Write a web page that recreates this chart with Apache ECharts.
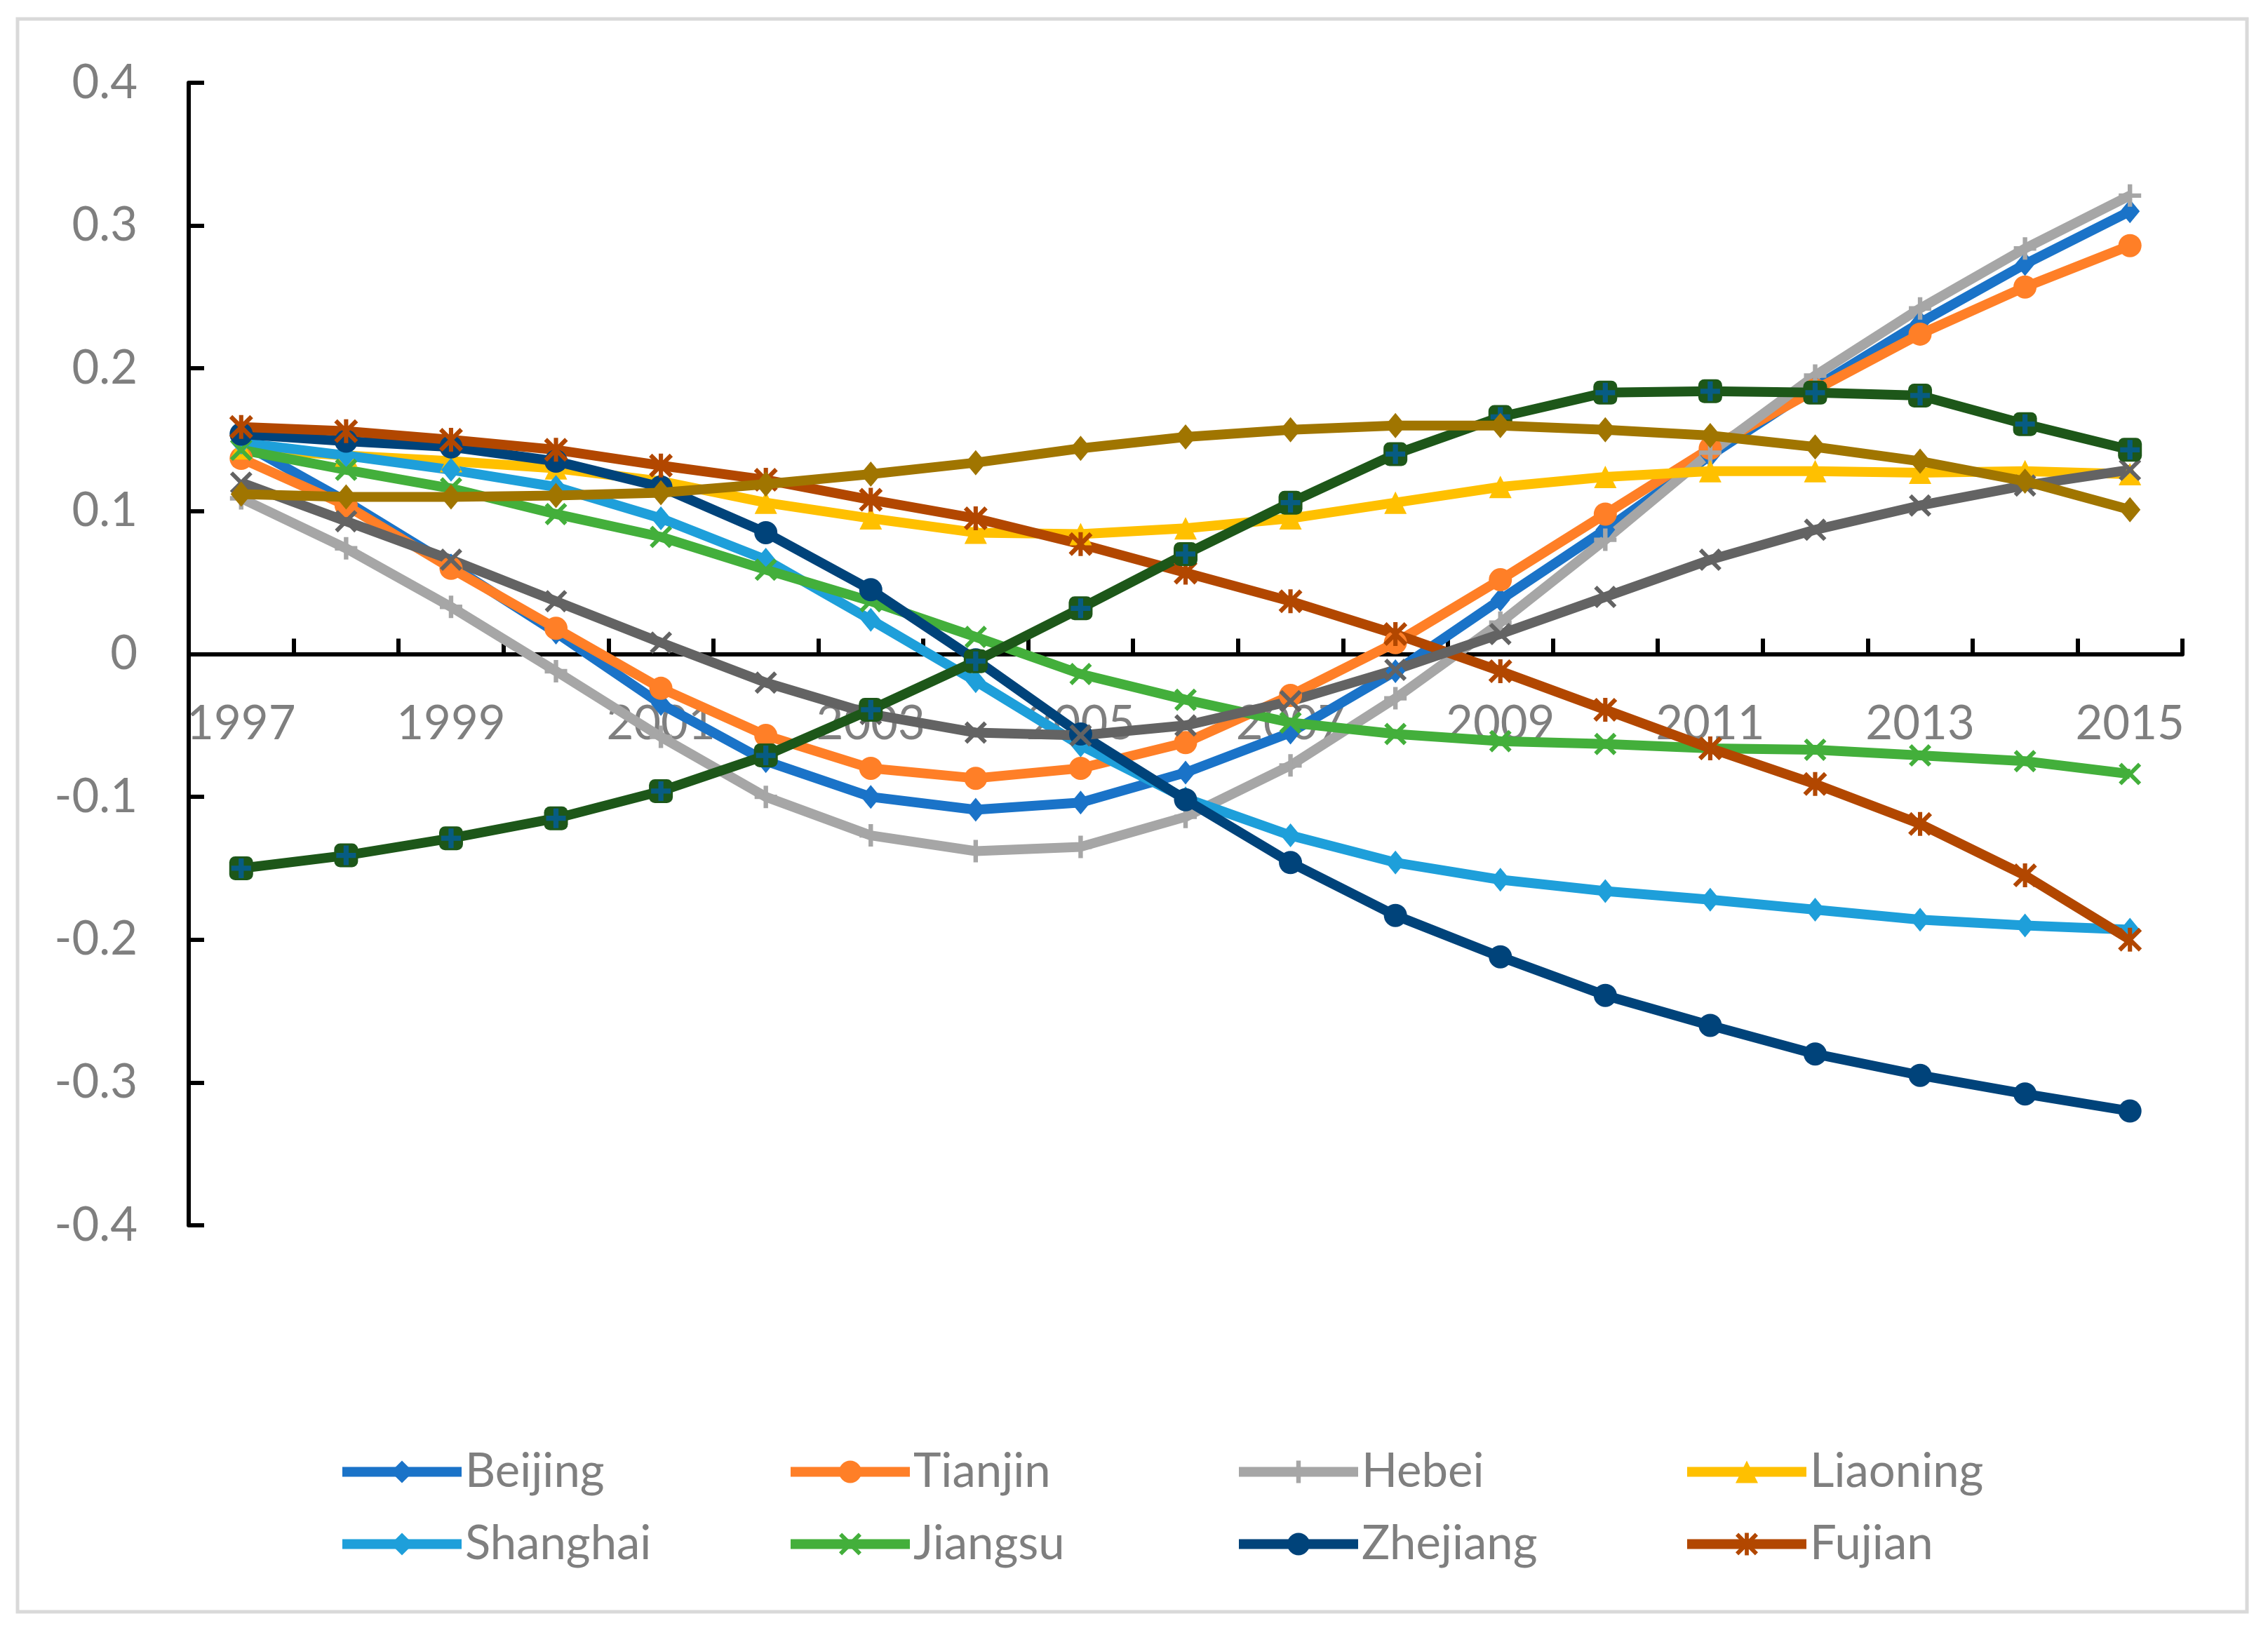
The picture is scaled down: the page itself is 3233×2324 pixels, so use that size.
<!DOCTYPE html>
<html>
<head>
<meta charset="utf-8">
<script src="https://cdn.jsdelivr.net/npm/echarts@6/dist/echarts.min.js"></script>
<style>
html,body{margin:0;padding:0;background:#fff;}
#c{width:3233px;height:2324px;}
</style>
</head>
<body>
<div id="c"></div>
<script>
const years = ['1997','1998','1999','2000','2001','2002','2003','2004','2005','2006','2007','2008','2009','2010','2011','2012','2013','2014','2015'];
const yTicks = {min: -0.4, max: 0.4, interval: 0.1};

const beijing  = [0.148,0.107,0.062,0.015,-0.035,-0.075,-0.100,-0.109,-0.104,-0.083,-0.055,-0.012,0.038,0.087,0.139,0.187,0.232,0.273,0.310];
const tianjin  = [0.137,0.104,0.060,0.018,-0.024,-0.057,-0.080,-0.087,-0.080,-0.062,-0.029,0.008,0.052,0.098,0.144,0.185,0.224,0.257,0.286];
const hebei    = [0.109,0.074,0.033,-0.012,-0.058,-0.100,-0.127,-0.138,-0.135,-0.114,-0.078,-0.031,0.022,0.080,0.141,0.195,0.242,0.284,0.321];
const liaoning = [0.144,0.139,0.135,0.130,0.121,0.106,0.095,0.085,0.084,0.088,0.095,0.106,0.117,0.124,0.128,0.128,0.127,0.128,0.126];
const shanghai = [0.148,0.139,0.129,0.117,0.095,0.066,0.024,-0.019,-0.064,-0.101,-0.127,-0.146,-0.158,-0.166,-0.172,-0.179,-0.186,-0.190,-0.193];
const jiangsu  = [0.143,0.129,0.116,0.098,0.082,0.059,0.037,0.012,-0.014,-0.032,-0.048,-0.056,-0.061,-0.063,-0.066,-0.067,-0.071,-0.075,-0.084];
const zhejiang = [0.154,0.149,0.145,0.135,0.117,0.085,0.045,-0.004,-0.056,-0.102,-0.146,-0.183,-0.212,-0.239,-0.260,-0.280,-0.295,-0.308,-0.320];
const fujian   = [0.159,0.156,0.150,0.143,0.132,0.122,0.108,0.095,0.077,0.057,0.037,0.014,-0.012,-0.039,-0.066,-0.091,-0.119,-0.155,-0.200];
const series9  = [0.120,0.093,0.066,0.037,0.008,-0.020,-0.042,-0.055,-0.057,-0.050,-0.033,-0.011,0.014,0.040,0.066,0.087,0.104,0.118,0.129];
const series10 = [-0.150,-0.141,-0.129,-0.115,-0.096,-0.071,-0.039,-0.005,0.032,0.070,0.106,0.140,0.166,0.183,0.184,0.183,0.181,0.161,0.143];
const series11 = [0.112,0.110,0.110,0.111,0.113,0.119,0.126,0.134,0.144,0.152,0.157,0.160,0.160,0.157,0.153,0.145,0.135,0.121,0.101];

const legendNames = ['Beijing','Tianjin','Hebei','Liaoning','Shanghai','Jiangsu','Zhejiang','Fujian'];

const PLUS = 'path://M4,0H6V4H10V6H6V10H4V6H0V4H4Z';
const PLUS_FAT = 'path://M3.7,0H6.3V3.7H10V6.3H6.3V10H3.7V6.3H0V3.7H3.7Z';
const XMARK = 'path://M1.3,0L5,3.7L8.7,0L10,1.3L6.3,5L10,8.7L8.7,10L5,6.3L1.3,10L0,8.7L3.7,5L0,1.3Z';
const STAR = 'path://M4.1,0H5.9V10H4.1Z M1.3,0L10,8.7L8.7,10L0,1.3Z M8.7,0L10,1.3L1.3,10L0,8.7Z';

const FONT = 'Lato';
const GRAY = '#7F7F7F';
const LW = 14;

function lineSeries(name, data, color, symbol, size, extra) {
  return Object.assign({
    name: name, type: 'line', data: data,
    symbol: symbol, symbolSize: size, showAllSymbol: true,
    lineStyle: {color: color, width: LW},
    itemStyle: {color: color},
    emphasis: {disabled: true}
  }, extra || {});
}

const seriesList = [
  lineSeries('Beijing', beijing, '#1A73C8', 'diamond', [28, 34]),
  lineSeries('Tianjin', tianjin, '#FF7F27', 'circle', 33),
  lineSeries('Hebei', hebei, '#A6A6A6', PLUS, 32),
  lineSeries('Liaoning', liaoning, '#FFC000', 'triangle', 32),
  lineSeries('Shanghai', shanghai, '#1E9FDA', 'diamond', [28, 34]),
  lineSeries('Jiangsu', jiangsu, '#43AF3B', XMARK, 32),
  lineSeries('Zhejiang', zhejiang, '#00437A', 'circle', 33),
  lineSeries('Fujian', fujian, '#B24700', STAR, 34),
  lineSeries('S9', series9, '#636363', XMARK, 32),
  lineSeries('S10', series10, '#1D5719', 'roundRect', 34),
  {name: 'S10m', type: 'scatter', data: series10, symbol: PLUS_FAT, symbolSize: 28,
   itemStyle: {color: '#035E9E'}, z: 3, emphasis: {disabled: true}},
  lineSeries('S11', series11, '#A07500', 'diamond', [30, 36], {z: 4})
];

const legends = legendNames.map(function(n, i) {
  return {
    data: [n],
    left: 476 + 639 * (i % 4),
    top: 2060 + 103 * Math.floor(i / 4),
    itemWidth: 170, itemHeight: 40,
    lineStyle: {width: LW},
    textStyle: {fontFamily: FONT, fontSize: 67, color: GRAY},
    selectedMode: false
  };
});

const gridTop = 118, gridBottom = 577, H = 2324;
const gridH = H - gridTop - gridBottom;
// place the category axis (line, ticks and labels) on the zero line
const zeroOffset = -gridH * (0 - yTicks.min) / (yTicks.max - yTicks.min);

const chart = echarts.init(document.getElementById('c'), null, {renderer: 'canvas'});
chart.setOption({
  animation: false,
  backgroundColor: '#fff',
  graphic: [{
    type: 'rect', shape: {x: 25, y: 27, width: 3178, height: 2271},
    style: {fill: 'none', stroke: '#D9D9D9', lineWidth: 5}, silent: true
  }],
  grid: {left: 269, right: 122, top: gridTop, bottom: gridBottom, containLabel: false},
  legend: legends,
  xAxis: {
    type: 'category', data: years, boundaryGap: true, position: 'bottom', offset: zeroOffset,
    axisLine: {onZero: false, lineStyle: {color: '#000', width: 6}},
    axisTick: {show: true, inside: true, length: 22, interval: 0, lineStyle: {color: '#000', width: 6}},
    axisLabel: {interval: 1, margin: 66, fontFamily: FONT, fontSize: 67, color: GRAY},
    splitLine: {show: false}
  },
  yAxis: {
    type: 'value', min: yTicks.min, max: yTicks.max, interval: yTicks.interval,
    axisLine: {show: true, onZero: false, lineStyle: {color: '#000', width: 6}},
    axisTick: {show: true, inside: true, length: 22, lineStyle: {color: '#000', width: 6}},
    axisLabel: {margin: 73, fontFamily: FONT, fontSize: 67, color: GRAY},
    splitLine: {show: false}
  },
  series: seriesList
});
</script>
</body>
</html>
